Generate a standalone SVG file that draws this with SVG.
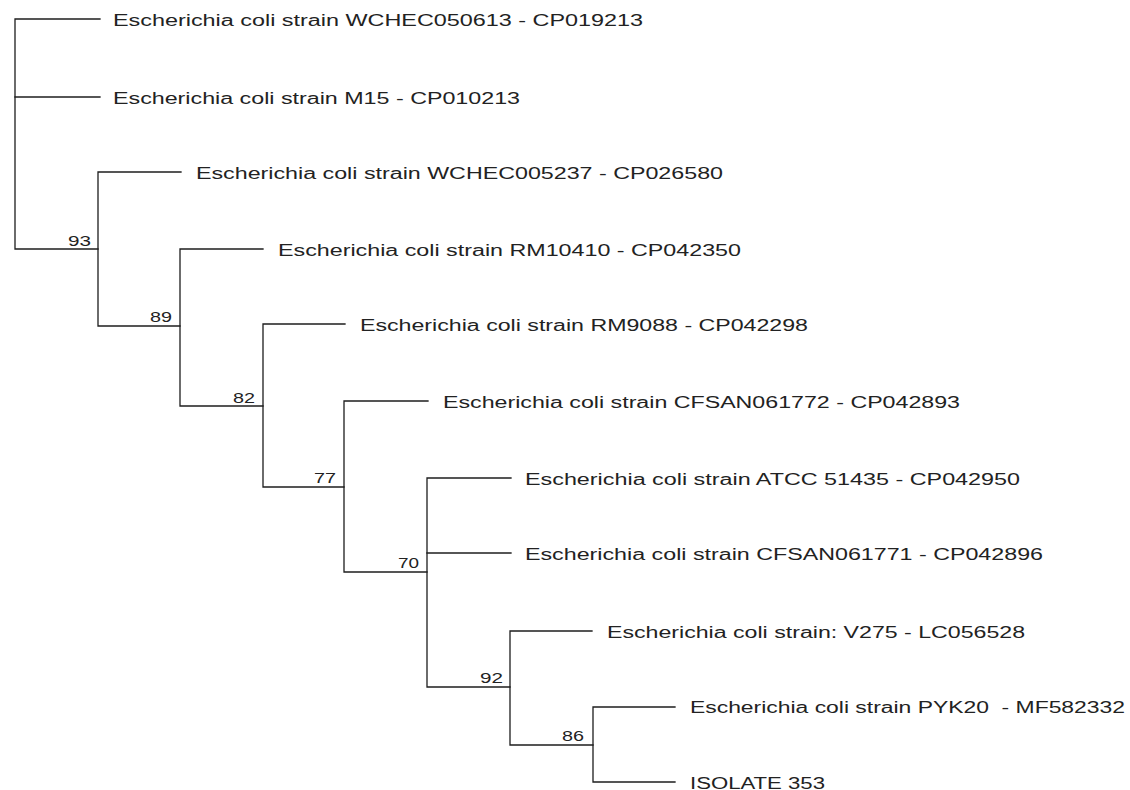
<svg xmlns="http://www.w3.org/2000/svg" width="1130" height="790" viewBox="0 0 1130 790">
<style>
.e{fill:none;stroke:#1e1e1e;stroke-width:1.3;stroke-linecap:square}
.t{font-family:"Liberation Sans",Arial,sans-serif;font-size:16px;fill:#222}
.b{font-family:"Liberation Sans",Arial,sans-serif;font-size:15px;fill:#222}
</style>
<rect width="1130" height="790" fill="#fff"/>
<g id="connectors" class="e">
<path d="M100 19H15V249H98"/>
<path d="M15 97H100"/>
<path d="M181 172H98V326H180"/>
<path d="M263 249H180V406H263"/>
<path d="M345 324H263V487H344"/>
<path d="M428 401H344V572H427"/>
<path d="M511 478H427V687H510"/>
<path d="M427 553H511"/>
<path d="M592 631H510V745H593"/>
<path d="M675 707H593V782H675"/>
</g>
<g id="leaf1"><text class="t" x="113" y="26" textLength="530" lengthAdjust="spacingAndGlyphs">Escherichia coli strain WCHEC050613 - CP019213</text></g>
<g id="leaf2"><text class="t" x="113" y="104" textLength="407" lengthAdjust="spacingAndGlyphs">Escherichia coli strain M15 - CP010213</text></g>
<g id="leaf3"><text class="t" x="196" y="179" textLength="527" lengthAdjust="spacingAndGlyphs">Escherichia coli strain WCHEC005237 - CP026580</text></g>
<g id="leaf4"><text class="t" x="278" y="256" textLength="463" lengthAdjust="spacingAndGlyphs">Escherichia coli strain RM10410 - CP042350</text></g>
<g id="leaf5"><text class="t" x="360" y="331" textLength="448" lengthAdjust="spacingAndGlyphs">Escherichia coli strain RM9088 - CP042298</text></g>
<g id="leaf6"><text class="t" x="443" y="408" textLength="517" lengthAdjust="spacingAndGlyphs">Escherichia coli strain CFSAN061772 - CP042893</text></g>
<g id="leaf7"><text class="t" x="525" y="485" textLength="495" lengthAdjust="spacingAndGlyphs">Escherichia coli strain ATCC 51435 - CP042950</text></g>
<g id="leaf8"><text class="t" x="525" y="560" textLength="518" lengthAdjust="spacingAndGlyphs">Escherichia coli strain CFSAN061771 - CP042896</text></g>
<g id="leaf9"><text class="t" x="607" y="638" textLength="418" lengthAdjust="spacingAndGlyphs">Escherichia coli strain: V275 - LC056528</text></g>
<g id="leaf10"><text class="t" x="690" y="713" textLength="435" lengthAdjust="spacingAndGlyphs" xml:space="preserve">Escherichia coli strain PYK20  - MF582332</text></g>
<g id="leaf11"><text class="t" x="690" y="789" textLength="135" lengthAdjust="spacingAndGlyphs">ISOLATE 353</text></g>
<g id="n93"><text class="b" x="68" y="246" textLength="23" lengthAdjust="spacingAndGlyphs">93</text></g>
<g id="n89"><text class="b" x="150" y="322" textLength="22" lengthAdjust="spacingAndGlyphs">89</text></g>
<g id="n82"><text class="b" x="233" y="403" textLength="22" lengthAdjust="spacingAndGlyphs">82</text></g>
<g id="n77"><text class="b" x="314" y="483" textLength="22" lengthAdjust="spacingAndGlyphs">77</text></g>
<g id="n70"><text class="b" x="398" y="568" textLength="21" lengthAdjust="spacingAndGlyphs">70</text></g>
<g id="n92"><text class="b" x="480" y="683" textLength="23" lengthAdjust="spacingAndGlyphs">92</text></g>
<g id="n86"><text class="b" x="562" y="741" textLength="22" lengthAdjust="spacingAndGlyphs">86</text></g>
</svg>
